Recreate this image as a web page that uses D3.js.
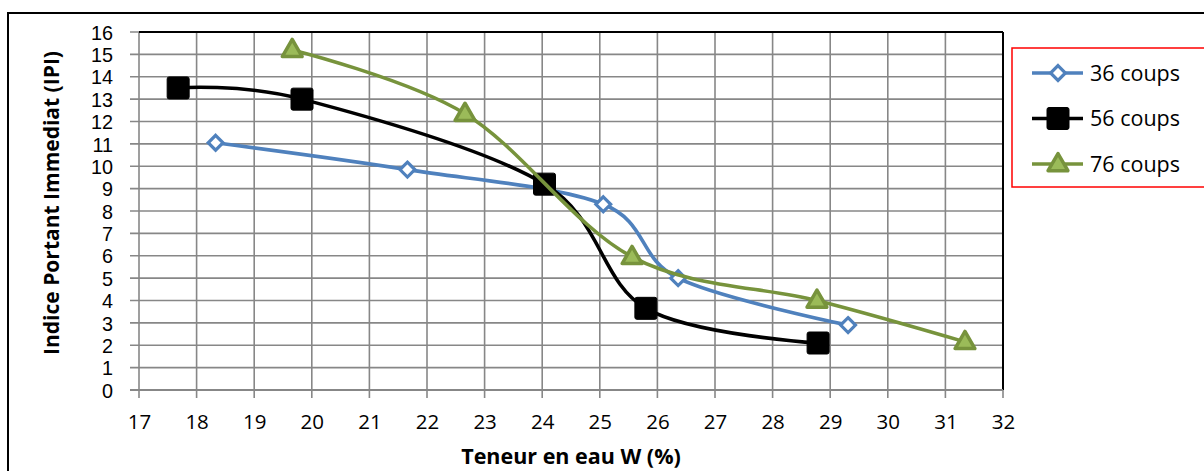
<!DOCTYPE html>
<html><head><meta charset="utf-8">
<script src="https://cdn.jsdelivr.net/npm/d3@7"></script>
<style>body{margin:0;background:#fff;}svg{display:block;font-family:"Open Sans",sans-serif;}</style>
</head><body><svg id="c" width="1204" height="471"></svg>
<script>
const xTicks = [17,18,19,20,21,22,23,24,25,26,27,28,29,30,31,32];
const yTicks = [0,1,2,3,4,5,6,7,8,9,10,11,12,13,14,15,16];
const seriesNames = ["36 coups","56 coups","76 coups"];
const w36 = [18.33,21.66,25.06,26.36,29.31];
const ipi36 = [11.05,9.85,8.3,5.0,2.9];
const w56 = [17.68,19.83,24.04,25.8,28.79];
const ipi56 = [13.5,13.0,9.2,3.65,2.1];
const w76 = [19.66,22.66,25.56,28.77,31.34];
const ipi76 = [15.2,12.35,5.95,4.0,2.15];

const svg = d3.select("#c");
const L=139,R=1003,T=32,B=390;
const x = d3.scaleLinear().domain([17,32]).range([L,R]);
const y = d3.scaleLinear().domain([0,16]).range([B,T]);

// outer chart border
svg.append("rect").attr("x",8).attr("y",13).attr("width",1220).attr("height",480)
  .attr("fill","none").attr("stroke","#000").attr("stroke-width",2);

// grid
const grid = svg.append("g");
grid.selectAll("line.v").data(xTicks).join("line")
  .attr("x1",d=>x(d)).attr("x2",d=>x(d)).attr("y1",T).attr("y2",B+8)
  .attr("stroke","#878787").attr("stroke-width",1.6);
grid.selectAll("line.h").data(yTicks).join("line")
  .attr("x1",L-9).attr("x2",R).attr("y1",d=>y(d)).attr("y2",d=>y(d))
  .attr("stroke","#878787").attr("stroke-width",1.6);
// plot border top/right
svg.append("line").attr("x1",L).attr("x2",R).attr("y1",T).attr("y2",T).attr("stroke","#000").attr("stroke-width",2);
svg.append("line").attr("x1",R).attr("x2",R).attr("y1",T).attr("y2",B).attr("stroke","#000").attr("stroke-width",2);
// bottom axis line
svg.append("line").attr("x1",L-9).attr("x2",R).attr("y1",B).attr("y2",B).attr("stroke","#878787").attr("stroke-width",2.2);

// axes labels
const yAxis = d3.axisLeft(y).tickValues(yTicks).tickSize(0).tickPadding(0);
const gy = svg.append("g").attr("transform",`translate(${L-26},0)`).call(yAxis);
gy.select(".domain").remove();
gy.selectAll("text").attr("font-size",19.8).attr("fill","#000").attr("font-family","Liberation Sans").attr("dy","0.36em");

const xAxis = d3.axisBottom(x).tickValues(xTicks).tickSize(0).tickPadding(0);
const gx = svg.append("g").attr("transform",`translate(0,${B+24})`).call(xAxis);
gx.select(".domain").remove();
gx.selectAll("text").attr("font-size",20.5).attr("fill","#000").attr("font-family","Open Sans").attr("dy","0.71em");

svg.append("text").attr("x",571).attr("y",464).attr("text-anchor","middle")
  .attr("font-size",21.5).attr("font-weight","bold").text("Teneur en eau W (%)");
svg.append("text").attr("transform","translate(59,203) rotate(-90)").attr("text-anchor","middle")
  .attr("font-size",21).attr("font-weight","bold").text("Indice Portant Immediat (IPI)");

const series = [
  {xs:w36, ys:ipi36, color:"#4f81bd", marker:"diamond"},
  {xs:w56, ys:ipi56, color:"#000000", marker:"square"},
  {xs:w76, ys:ipi76, color:"#77933c", marker:"triangle"}
];
const line = d3.line().x(d=>x(d[0])).y(d=>y(d[1])).curve(d3.curveCatmullRom.alpha(0));

function drawMarker(g, type, cx, cy){
  if(type==="diamond"){
    g.append("path").attr("d",d3.symbol(d3.symbolDiamond2,140)())
      .attr("transform",`translate(${cx},${cy})`)
      .attr("fill","#fff").attr("stroke","#4f81bd").attr("stroke-width",3.2);
  } else if(type==="square"){
    g.append("rect").attr("x",cx-11).attr("y",cy-11).attr("width",22).attr("height",22).attr("rx",2)
      .attr("fill","#000").attr("stroke","#000").attr("stroke-width",1);
  } else {
    g.append("path").attr("d",d3.symbol(d3.symbolTriangle,170)())
      .attr("transform",`translate(${cx},${cy+1})`)
      .attr("fill","#9bbb59").attr("stroke","#77933c").attr("stroke-width",3.5).attr("stroke-linejoin","round");
  }
}

series.forEach(s=>{
  const pts = s.xs.map((v,i)=>[v,s.ys[i]]);
  const g = svg.append("g");
  g.append("path").attr("d",line(pts)).attr("fill","none").attr("stroke",s.color).attr("stroke-width",3.6);
  pts.forEach(p=>drawMarker(g,s.marker,x(p[0]),y(p[1])));
});

// legend
const lg = svg.append("g");
lg.append("rect").attr("x",1012).attr("y",48).attr("width",220).attr("height",139)
  .attr("fill","#fff").attr("stroke","#ff0000").attr("stroke-width",1.5);
series.forEach((s,i)=>{
  const cy = 73 + i*45.5;
  lg.append("line").attr("x1",1032).attr("x2",1083).attr("y1",cy).attr("y2",cy).attr("stroke",s.color).attr("stroke-width",3.6);
  drawMarker(lg,s.marker,1058,cy);
  lg.append("text").attr("x",1090).attr("y",cy).attr("dy","0.36em").attr("font-size",21.5).text(seriesNames[i]);
});
</script></body></html>
